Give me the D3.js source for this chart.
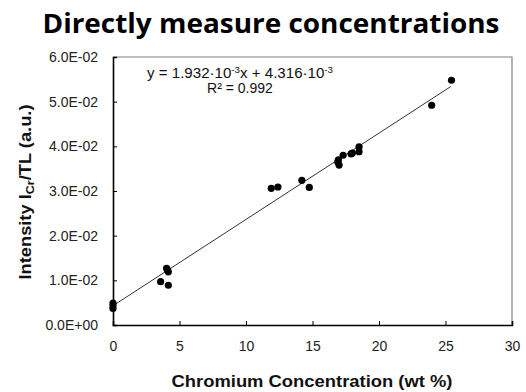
<!DOCTYPE html>
<html><head><meta charset="utf-8">
<script src="https://cdn.jsdelivr.net/npm/d3@7"></script>
<style>body{margin:0;background:#fff}svg{display:block}</style>
</head><body>
<script>
const xValues = [0, 0, 0, 3.58, 4.16, 4.03, 4.16, 4.10, 11.9, 12.4, 14.2, 14.76, 16.9, 17.0, 16.95, 17.3, 17.9, 18.0, 18.5, 18.5, 23.96, 25.45];
const yValues = [0.0049, 0.0043, 0.0037, 0.0097, 0.0089, 0.0127, 0.0119, 0.0123, 0.0306, 0.0309, 0.0324, 0.0308, 0.0365, 0.0358, 0.0370, 0.0380, 0.0383, 0.0385, 0.0399, 0.0388, 0.0492, 0.0548];
const fitSlope = 0.001932, fitIntercept = 0.004316;
const fitRange = [0, 25.4];
const xTicks = [0, 5, 10, 15, 20, 25, 30];
const yTicks = [0, 0.01, 0.02, 0.03, 0.04, 0.05, 0.06];
const yTickLabels = ["0.0E+00", "1.0E-02", "2.0E-02", "3.0E-02", "4.0E-02", "5.0E-02", "6.0E-02"];

const W = 526, H = 392;
const svg = d3.select("body").append("svg").attr("width", W).attr("height", H);
const x = d3.scaleLinear().domain([0, 30]).range([113, 512]);
const y = d3.scaleLinear().domain([0, 0.06]).range([325, 57]);
const AR = "Arial, 'Liberation Sans', sans-serif";

svg.append("text").attr("x", 271).attr("y", 33).attr("text-anchor", "middle")
  .attr("font-family", "'Open Sans', sans-serif").attr("font-weight", "bold").attr("font-size", 26.5)
  .attr("textLength", 457).attr("lengthAdjust", "spacingAndGlyphs")
  .attr("fill", "#000").text("Directly measure concentrations");

// plot border (top/right)
svg.append("path").attr("d", `M${x(0)},${y(0.06)}H${x(30)}V${y(0)}`)
  .attr("fill", "none").attr("stroke", "#808080").attr("stroke-width", 1.2);

const yAxis = d3.axisLeft(y).tickValues(yTicks).tickSize(-4).tickPadding(15)
  .tickFormat((d, i) => yTickLabels[i]);
const gy = svg.append("g").attr("transform", `translate(${x(0)},0)`).call(yAxis);
const xAxis = d3.axisBottom(x).tickValues(xTicks).tickSize(-4).tickPadding(16);
const gx = svg.append("g").attr("transform", `translate(0,${y(0)})`).call(xAxis);
[gx, gy].forEach(g => {
  g.select(".domain").attr("stroke", "#000").attr("stroke-width", 1.6);
  g.selectAll(".tick line").attr("stroke", "#000").attr("stroke-width", 1);
  g.selectAll("text").attr("font-family", AR).attr("font-size", 14).attr("fill", "#222");
});

// fit line
svg.append("line").attr("x1", x(fitRange[0])).attr("y1", y(fitIntercept + fitSlope * fitRange[0]))
  .attr("x2", x(fitRange[1])).attr("y2", y(fitIntercept + fitSlope * fitRange[1]))
  .attr("stroke", "#333").attr("stroke-width", 1);

svg.append("g").selectAll("circle").data(xValues).join("circle")
  .attr("cx", (d) => x(d)).attr("cy", (d, i) => y(yValues[i])).attr("r", 3.6).attr("fill", "#000");

// equation
const eq = svg.append("text").attr("x", 240).attr("y", 78).attr("text-anchor", "middle")
  .attr("font-family", AR).attr("font-size", 14).attr("fill", "#111")
  .attr("textLength", 186).attr("lengthAdjust", "spacingAndGlyphs");
eq.append("tspan").text("y = 1.932·10");
eq.append("tspan").attr("font-size", 9).attr("dy", -5).text("-3");
eq.append("tspan").attr("dy", 5).text("x  + 4.316·10");
eq.append("tspan").attr("font-size", 9).attr("dy", -5).text("-3");
svg.append("text").attr("x", 240).attr("y", 92.5).attr("text-anchor", "middle")
  .attr("font-family", AR).attr("font-size", 14).attr("fill", "#111")
  .text("R² = 0.992");

// axis titles
svg.append("text").attr("x", 312).attr("y", 387).attr("text-anchor", "middle")
  .attr("font-family", AR).attr("font-weight", "bold").attr("font-size", 16)
  .attr("textLength", 281).attr("lengthAdjust", "spacingAndGlyphs")
  .attr("fill", "#111").text("Chromium Concentration (wt %)");
const yl = svg.append("text").attr("transform", "translate(31,192) rotate(-90)").attr("text-anchor", "middle")
  .attr("font-family", AR).attr("font-weight", "bold").attr("font-size", 16)
  .attr("textLength", 175).attr("lengthAdjust", "spacingAndGlyphs")
  .attr("fill", "#111");
yl.append("tspan").text("Intensity I");
yl.append("tspan").attr("font-size", 11).attr("dy", 3).text("Cr");
yl.append("tspan").attr("dy", -3).text("/TL (a.u.)");
</script>
</body></html>
